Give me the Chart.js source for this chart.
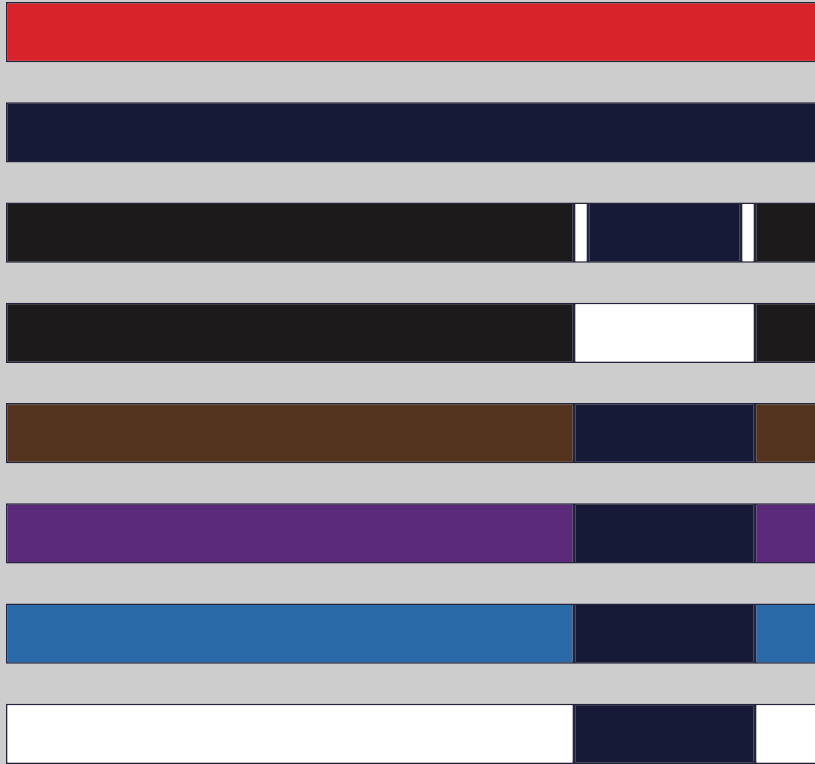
<!DOCTYPE html>
<html>
<head>
<meta charset="utf-8">
<script src="https://cdn.jsdelivr.net/npm/chart.js@4"></script>
<style>
html,body{margin:0;padding:0;background:#cdcdcd;overflow:hidden;width:815px;height:764px;}
#wrap{position:absolute;left:0;top:-18px;width:815px;height:802px;}
</style>
</head>
<body>
<div id="wrap"><canvas id="c"></canvas></div>
<script>
const belts = ["Red","Navy","Black / Coral","Black / White","Brown","Purple","Blue","White"];
const seg1 = [830, 830, 568, 568, 568, 568, 568, 568];
const seg2 = [null, null, 14, null, null, null, null, null];
const seg3 = [null, null, 153, 181, 181, 181, 181, 181];
const seg4 = [null, null, 14, null, null, null, null, null];
const seg5 = [null, null, 80, 80, 80, 80, 80, 80];

const c1 = ["#d9232b","#161a36","#1c1a1b","#1c1a1b","#54341e","#5b2a7a","#2a6aa8","#ffffff"];
const c2 = ["#ffffff","#ffffff","#ffffff","#ffffff","#ffffff","#ffffff","#ffffff","#ffffff"];
const c3 = ["#161a36","#161a36","#161a36","#ffffff","#161a36","#161a36","#161a36","#161a36"];
const c4 = c2;
const c5 = c1;

const border = "#24243c";
function ds(data, colors){
  return {data, backgroundColor: colors, borderColor: border, borderWidth: 1.5, borderSkipped: false,
          barPercentage: 0.6, categoryPercentage: 1.0};
}
new Chart(document.getElementById('c'), {
  type: 'bar',
  data: {labels: belts, datasets: [ds(seg1,c1), ds(seg2,c2), ds(seg3,c3), ds(seg4,c4), ds(seg5,c5)]},
  options: {
    indexAxis: 'y', responsive: true, maintainAspectRatio: false, animation: false,
    layout: {padding: {left: 6, right: 0, top: 0, bottom: 0}},
    plugins: {legend: {display: false}, tooltip: {enabled: false}},
    scales: {
      x: {stacked: true, min: 0, max: 809, display: false},
      y: {stacked: true, display: false}
    }
  }
});
</script>
</body>
</html>
